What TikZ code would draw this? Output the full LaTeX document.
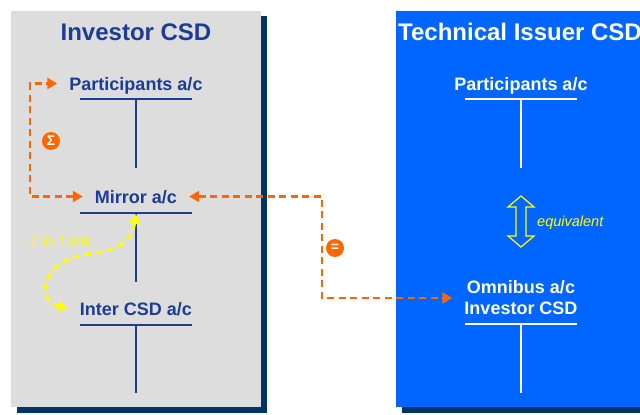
\documentclass[tikz,border=0pt]{standalone}
\usepackage{fontspec}
\setmainfont{Liberation Sans}
\usetikzlibrary{arrows.meta}

\definecolor{grisCSD}{RGB}{221,221,221}
\definecolor{sombraCSD}{RGB}{0,51,102}
\definecolor{azulTI}{RGB}{0,102,255}
\definecolor{azulOsc}{RGB}{28,60,150}
\definecolor{naranja}{RGB}{255,102,0}
\definecolor{amarillo}{RGB}{255,255,0}

\begin{document}
\begin{tikzpicture}[x=1pt, y=-1pt,
	titulo/.style={font=\fontsize{24}{28}\selectfont\bfseries, inner sep=0pt},
	cuenta/.style={font=\fontsize{18}{21}\selectfont\bfseries, inner xsep=12pt, inner ysep=0pt, text height=13pt, text depth=0pt},
	linea/.style={line width=1.5pt, draw=azulOsc},
	flujo/.style={naranja, line width=2.8pt, dash pattern=on 7pt off 4.5pt, {Triangle[length=10pt,width=11pt]}-{Triangle[length=10pt,width=11pt]}},
	enlace/.style={amarillo, line width=2.8pt, dash pattern=on 7pt off 4.5pt, {Triangle[length=10pt,width=11pt]}-{Triangle[length=10pt,width=11pt]}},
	signo/.style={circle, fill=naranja, text=white, inner sep=0pt, minimum size=18pt, font=\fontsize{14}{14}\selectfont\bfseries},
	nota/.style={font=\fontsize{14.5}{16}\selectfont\itshape, text=amarillo, inner sep=0pt}]

		\useasboundingbox (0,0) rectangle (640,415);
		\clip (0,0) rectangle (640,415);

		% Paneles con sombra
		\fill[sombraCSD] (17,16) rectangle (267,413);
		\fill[grisCSD] (11,11) rectangle (261,407);
		\fill[sombraCSD] (402,16) rectangle (660,413);
		\fill[azulTI] (396,11) rectangle (660,407);

		% Titulos
		\node[titulo, text=azulOsc, anchor=base] (tituloI) at (136,40) {Investor CSD};
		\node[titulo, text=white, anchor=base west] (tituloT) at (398,40) {Technical Issuer CSD};

		% Cuentas del Investor CSD
		\node[cuenta, text=azulOsc, anchor=base] (partI) at (136,90) {Participants a/c};
		\node[cuenta, text=azulOsc, anchor=base] (mirrorI) at (136,203) {Mirror a/c};
		\node[cuenta, text=azulOsc, anchor=base] (interI) at (136,315) {Inter CSD a/c};
		\draw[linea] (80,99) -- (192,99) (136,99) -- (136,168);
		\draw[linea] (80,213) -- (192,213) (136,213) -- (136,282);
		\draw[linea] (80,325) -- (192,325) (136,325) -- (136,393);
		\coordinate (mirrorB) at (136,214); % base de Mirror a/c

		% Cuentas del Technical Issuer CSD
		\node[cuenta, text=white, anchor=base] (partT) at (521,90) {Participants a/c};
		\node[cuenta, text=white, align=center, text height=, text depth=] (omniT) at (521,298) {Omnibus a/c\\Investor CSD};
		\draw[linea, draw=white] (465,99) -- (577,99) (521,99) -- (521,168);
		\draw[linea, draw=white] (465,324) -- (577,324) (521,324) -- (521,393);

		% Equivalencia
		\draw[amarillo, line width=1.2pt] (521,196) -- (534,207) -- (526,207) -- (526,236) -- (534,236)
			-- (521,247) -- (508,236) -- (516,236) -- (516,207) -- (508,207) -- cycle;
		\node[nota, anchor=west] (equivTxt) at (537,223) {equivalent};

		% Flujos
		\draw[flujo] (mirrorI.west) -| (30,140) |- (partI.west);
		\draw[flujo] (mirrorI.east) -| (322,250) |- (omniT.west);
		\node[signo] (suma) at (51,141) {Σ};
		\node[signo] (igual) at (335,248) {=};

		% Enlace 1 a 1
		\draw[enlace] (mirrorB) .. controls (133,236) and (122,250) .. (95,253)
			.. controls (40,258) and (35,300) .. (interI.west);
		\node[nota, anchor=west] (enlaceTxt) at (29,241) {1 to 1 link};

	\end{tikzpicture}
\end{document}
